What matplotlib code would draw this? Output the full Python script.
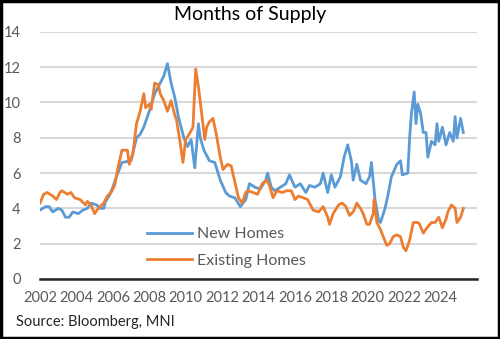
import matplotlib
matplotlib.use("Agg")
import matplotlib.pyplot as plt

# months of supply, decimal year vs months
new_dates = [2002.0, 2002.3, 2002.5, 2002.7, 2003.0, 2003.2, 2003.4, 2003.6, 2003.8, 2004.1,
             2004.35, 2004.6, 2004.8, 2005.1, 2005.3, 2005.5, 2005.6, 2005.8, 2006.0, 2006.2,
             2006.5, 2007.0, 2007.3, 2007.5, 2007.7, 2008.0, 2008.3, 2008.6, 2008.8, 2009.0,
             2009.2, 2009.4, 2009.6, 2009.9, 2010.1, 2010.3, 2010.5, 2010.7, 2010.8, 2011.0,
             2011.3, 2011.6, 2011.9, 2012.2, 2012.4, 2012.7, 2013.0, 2013.3, 2013.5, 2013.8,
             2014.1, 2014.4, 2014.5, 2014.7, 2014.9, 2015.2, 2015.5, 2015.7, 2016.0, 2016.3,
             2016.6, 2016.8, 2017.1, 2017.4, 2017.55, 2017.8, 2018.0, 2018.2, 2018.5, 2018.7,
             2018.9, 2019.1, 2019.2, 2019.4, 2019.6, 2019.9, 2020.1, 2020.2, 2020.4, 2020.6,
             2020.7, 2020.95, 2021.1, 2021.3, 2021.6, 2021.8, 2021.9, 2022.2, 2022.3, 2022.4,
             2022.55, 2022.65, 2022.75, 2022.9, 2023.05, 2023.2, 2023.3, 2023.5, 2023.7, 2023.8,
             2023.9, 2024.1, 2024.3, 2024.5, 2024.7, 2024.8, 2024.9, 2025.1, 2025.25]
new_homes = [3.9, 4.1, 4.1, 3.8, 4.0, 3.9, 3.5, 3.5, 3.8, 3.7,
             3.9, 4.0, 4.3, 4.2, 4.0, 4.0, 4.4, 4.7, 5.2, 5.8,
             6.6, 6.7, 8.0, 8.2, 8.6, 9.5, 10.5, 11.1, 11.5, 12.2,
             11.1, 10.3, 9.2, 8.0, 7.5, 7.9, 6.3, 8.8, 8.0, 7.3,
             6.7, 6.6, 5.6, 4.9, 4.7, 4.6, 4.1, 4.5, 5.4, 5.2,
             5.1, 5.6, 6.0, 5.2, 5.0, 5.2, 5.4, 5.9, 5.2, 5.4,
             4.9, 5.3, 5.2, 5.4, 6.0, 4.9, 5.9, 5.2, 5.8, 6.9,
             7.6, 6.7, 5.6, 6.5, 5.6, 5.4, 5.8, 6.6, 4.5, 3.3,
             3.2, 4.0, 4.7, 5.8, 6.5, 6.7, 5.9, 6.0, 8.0, 9.4,
             10.6, 8.8, 9.9, 9.4, 8.3, 8.3, 6.9, 7.8, 7.6, 8.8,
             7.8, 8.6, 7.6, 8.3, 7.8, 9.2, 8.0, 9.1, 8.3]

exist_dates = [2002.0, 2002.2, 2002.4, 2002.7, 2002.9, 2003.1, 2003.2, 2003.5, 2003.7, 2003.9,
               2004.2, 2004.5, 2004.6, 2004.8, 2005.0, 2005.2, 2005.5, 2005.7, 2005.9, 2006.1,
               2006.3, 2006.5, 2006.8, 2006.9, 2007.1, 2007.3, 2007.5, 2007.7, 2007.8, 2008.0,
               2008.1, 2008.3, 2008.5, 2008.6, 2008.8, 2009.0, 2009.2, 2009.4, 2009.5, 2009.7,
               2009.85, 2010.0, 2010.25, 2010.4, 2010.55, 2010.7, 2010.9, 2011.05, 2011.15, 2011.3,
               2011.5, 2011.7, 2011.9, 2012.05, 2012.3, 2012.5, 2012.7, 2012.9, 2013.1, 2013.3,
               2013.4, 2013.7, 2013.95, 2014.2, 2014.45, 2014.6, 2014.8, 2015.0, 2015.3, 2015.55,
               2015.8, 2016.0, 2016.2, 2016.45, 2016.7, 2017.0, 2017.3, 2017.55, 2017.8, 2017.9,
               2018.1, 2018.4, 2018.6, 2018.8, 2019.0, 2019.2, 2019.4, 2019.6, 2019.75, 2019.95,
               2020.1, 2020.3, 2020.35, 2020.5, 2020.7, 2020.85, 2021.05, 2021.2, 2021.4, 2021.6,
               2021.8, 2021.95, 2022.1, 2022.3, 2022.5, 2022.75, 2022.85, 2023.05, 2023.25, 2023.5,
               2023.7, 2023.9, 2024.1, 2024.3, 2024.4, 2024.6, 2024.8, 2024.9, 2025.1, 2025.25]
existing_homes = [4.3, 4.8, 4.9, 4.7, 4.5, 4.9, 5.0, 4.8, 4.9, 4.6,
                  4.5, 4.2, 4.4, 4.2, 3.7, 4.0, 4.3, 4.7, 4.9, 5.3,
                  6.4, 7.3, 7.3, 6.5, 7.1, 8.8, 9.5, 10.5, 9.7, 9.9,
                  9.6, 11.1, 11.0, 10.5, 10.1, 9.5, 10.1, 9.3, 9.0, 7.7,
                  6.6, 7.9, 8.3, 8.6, 11.9, 10.9, 9.2, 7.9, 8.6, 8.9,
                  9.1, 8.1, 6.9, 6.2, 6.5, 6.4, 5.5, 4.6, 4.3, 4.9,
                  5.0, 4.9, 4.8, 5.4, 5.6, 5.3, 4.6, 5.0, 4.9, 5.0,
                  5.0, 4.5, 4.7, 4.6, 4.5, 3.9, 3.8, 4.1, 3.5, 3.1,
                  3.7, 4.2, 4.3, 4.1, 3.6, 3.8, 4.3, 4.0, 3.7, 3.1,
                  3.1, 3.7, 4.5, 3.2, 2.8, 2.4, 1.9, 2.0, 2.4, 2.5,
                  2.4, 1.8, 1.6, 2.2, 3.2, 3.2, 3.1, 2.6, 2.9, 3.2,
                  3.2, 3.5, 2.9, 3.4, 3.8, 4.2, 4.0, 3.2, 3.5, 4.0]

year_ticks = list(range(2002, 2025, 2))
value_ticks = list(range(0, 15, 2))

plt.rcParams["font.family"] = ["Lato", "DejaVu Sans"]

fig = plt.figure(figsize=(5.0, 3.39), dpi=100)
ax = fig.add_axes([0.08, 0.177, 0.874, 0.729])

ax.plot(new_dates, new_homes, color="#5B9BD5", lw=2.0, label="New Homes",
        solid_joinstyle="round")
ax.plot(exist_dates, existing_homes, color="#ED7D31", lw=2.0, label="Existing Homes",
        solid_joinstyle="round")

ax.set_xlim(2002, 2026)
ax.set_ylim(0, 14)
ax.set_xticks(year_ticks)
ax.set_xticklabels([str(y) for y in year_ticks])
ax.set_yticks(value_ticks)
ax.tick_params(length=0, labelsize=10.5, colors="#595959")
ax.tick_params(axis="x", pad=9)
ax.tick_params(axis="y", pad=14)
ax.grid(axis="y", color="#D9D9D9", lw=1.5)
ax.set_axisbelow(True)
for side in ["left", "right", "top"]:
    ax.spines[side].set_visible(False)
ax.spines["bottom"].set_color("#262626")
ax.spines["bottom"].set_linewidth(1.8)
ax.spines["bottom"].set_zorder(5)

leg = ax.legend(loc="upper left", bbox_to_anchor=(0.23, 0.235), frameon=False,
                fontsize=11.5, handlelength=2.8, handletextpad=0.35, labelspacing=0.75,
                borderaxespad=0)
for t in leg.get_texts():
    t.set_color("#595959")

fig.text(0.5, 0.958, "Months of Supply", ha="center", va="center", fontsize=14, color="black")
fig.text(0.032, 0.05, "Source: Bloomberg, MNI", ha="left", va="center", fontsize=10.5,
         color="#262626")

# black frame round the whole figure
fig.patches.append(plt.Rectangle((0.002, 0.003), 0.995, 0.994, transform=fig.transFigure,
                                 fill=False, edgecolor="black", lw=2.5))

fig.savefig("out.png", dpi=100)
